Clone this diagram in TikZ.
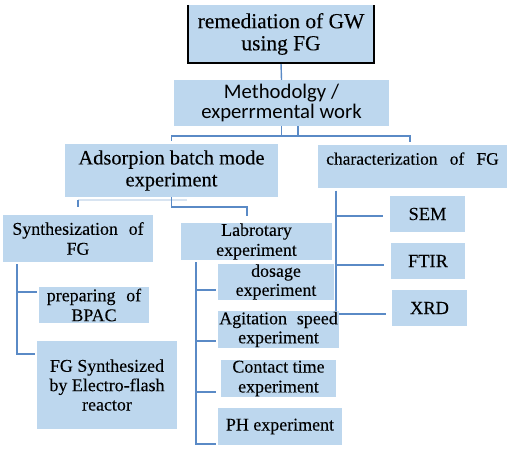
\documentclass[tikz,border=0pt]{standalone}
\usepackage{fontspec}
\setmainfont{Liberation Serif}[FakeBold=0.12]
\newfontfamily\calib{Carlito}
\usepackage{tikz}
\usepackage{xcolor}
\usetikzlibrary{backgrounds}
\definecolor{boxblue}{HTML}{BDD7EE}
\definecolor{lineblue}{HTML}{5A8AC6}
\definecolor{faintblue}{HTML}{D8E4F1}
\newcommand\fsz[2][1.11]{\fontsize{#2}{#1\dimexpr#2pt\relax}\selectfont}

\begin{document}
\begin{tikzpicture}[x=1bp,y=-1bp,box/.style={fill=boxblue,inner sep=0pt,align=center,font=\fsz{18}},link/.style={draw=lineblue,line width=1.4bp},faintlink/.style={draw=faintblue,line width=1.2bp}]
\useasboundingbox (0,0) rectangle (514,473);
\node[box,minimum width=186bp,minimum height=58bp,font={\fsz[1.03]{21.5}}] (remGW) at (281,34) {remediation of GW\\using FG};
\draw[line width=2.5bp] (remGW.north west) -- (remGW.south west) -- (remGW.south east) -- (remGW.north east);
\node[box,minimum width=215bp,minimum height=46bp,font=\calib\fontsize{20.8}{20}\selectfont] (meth) at (281.5,103) {Methodolgy /\\experrmental work};
\node[box,minimum width=213bp,minimum height=53bp,font={\fsz[1.07]{20.5}}] (adsB) at (171.5,170.5) {Adsorpion batch mode\\experiment};
\node[box,minimum width=189bp,minimum height=43bp,font=\fsz{17.5},text depth=16bp] (charFG) at (412.5,166.5) {characterization\hspace{.7em}of\hspace{.7em}FG};
\node[box,minimum width=150bp,minimum height=47bp] (synFG) at (78,238.5) {Synthesization\hspace{.6em}of\\FG};
\node[box,minimum width=151bp,minimum height=37bp] (labExp) at (256.5,241.5) {Labrotary\\experiment};
\node[box,minimum width=110bp,minimum height=36bp] (prepBP) at (94,305) {preparing\hspace{.6em}of\\BPAC};
\node[box,minimum width=140bp,minimum height=88bp,font={\fsz[1.08]{18}}] (fgSyn) at (107,385) {FG Synthesized\\by Electro-flash\\reactor};
\node[box,minimum width=116bp,minimum height=36bp,font={\fsz[1.06]{18}}] (dose) at (276,282) {dosage\\experiment};
\node[box,minimum width=121bp,minimum height=37bp,font={\fsz[1.06]{18}}] (agit) at (278.5,329.5) {Agitation\hspace{.55em}speed\\experiment};
\node[box,minimum width=115bp,minimum height=37bp] (cont) at (278.5,378.5) {Contact time\\experiment};
\node[box,minimum width=124bp,minimum height=37bp] (ph) at (280,426.5) {PH experiment};
\node[box,minimum width=75bp,minimum height=36bp,font=\fsz{18.5}] (sem) at (427.5,214) {SEM};
\node[box,minimum width=74bp,minimum height=36bp,font=\fsz{18.5}] (ftir) at (428,261) {FTIR};
\node[box,minimum width=75bp,minimum height=36bp,font=\fsz{18.5}] (xrd) at (429.5,308) {XRD};
\begin{pgfonlayer}{background}
\coordinate (jMeth) at (281.5,136);
\coordinate (jSyn) at (78,200);
\coordinate (tSyn) at (17,264);
\coordinate (tLab) at (196,262);
\coordinate (tChar) at (336,191);
\draw[link] (remGW.south) -- (meth.north);
\draw[link] (meth.south) -- (jMeth);
\draw[link] ([xshift=16.5bp]meth.south) -- ++(0,10);
\draw[link] ([yshift=3bp]adsB.north) |- (jMeth) -| ([xshift=-2.5bp,yshift=3bp]charFG.north);
\draw[faintlink] (jSyn) -- ++(109,0);
\draw[link] (jSyn) -- ([yshift=8bp]synFG.north);
\draw[link] (adsB.south) -- ++(0,10) -| ([xshift=-9.5bp,yshift=7bp]labExp.north);
\draw[link] (tSyn) |- ([xshift=-2bp,yshift=-5bp]prepBP.north west);
\draw[link] (tSyn) |- ([xshift=-2bp,yshift=-13bp]fgSyn.north west);
\draw[link] (tLab) |- ([xshift=-2bp,yshift=-8bp]dose.west);
\draw[link] (tLab) |- ([xshift=-2bp,yshift=-11.5bp]agit.west);
\draw[link] (tLab) |- ([xshift=-5bp,yshift=-13.5bp]cont.west);
\draw[link] (tLab) |- ([xshift=-2bp,yshift=-17.5bp]ph.west);
\draw[link] (tChar) |- ([xshift=-7bp,yshift=-2bp]sem.west);
\draw[link] (tChar) |- ([xshift=-7bp,yshift=-4bp]ftir.west);
\draw[link] (tChar) |- ([xshift=-6bp,yshift=-6bp]xrd.west);
\end{pgfonlayer}
\end{tikzpicture}
\end{document}
